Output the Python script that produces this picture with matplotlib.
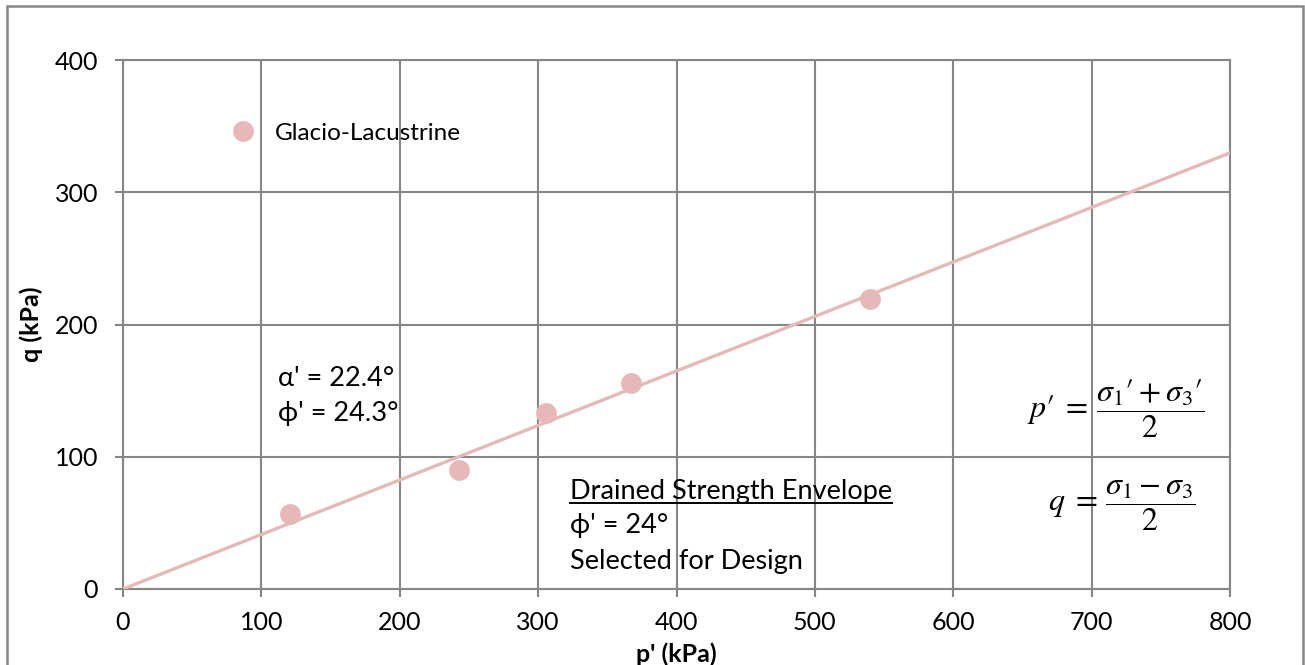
import numpy as np
import matplotlib
matplotlib.use("Agg")
import matplotlib.pyplot as plt
from matplotlib.lines import Line2D
from matplotlib.patches import Rectangle
from matplotlib.transforms import IdentityTransform

# test data (p', q) in kPa
p_test = [121, 243, 306, 367, 540]
q_test = [57, 90, 133, 156, 219]
series_name = "Glacio-Lacustrine"

# envelope through origin, alpha' = 22.4 deg
alpha_deg = 22.4
env_p = [0, 800]
env_q = [p * np.tan(np.radians(alpha_deg)) for p in env_p]

x_ticks = [0, 100, 200, 300, 400, 500, 600, 700, 800]
y_ticks = [0, 100, 200, 300, 400]

PINK = "#E6B9B8"
GRID = "#868686"

plt.rcParams["font.family"] = ["Lato", "DejaVu Sans"]
plt.rcParams["mathtext.fontset"] = "stix"

fig = plt.figure(figsize=(13.05, 6.65), dpi=100)
ax = fig.add_axes([123 / 1305, 1 - 589 / 665, 1107 / 1305, 529 / 665])

ax.plot(env_p, env_q, color=PINK, lw=2.4, zorder=3)
ax.plot(p_test, q_test, "o", color=PINK, ms=15, mec="none",
        label=series_name, zorder=4)

ax.set_xlim(0, 800)
ax.set_ylim(0, 400)
ax.set_xticks(x_ticks)
ax.set_yticks(y_ticks)
ax.grid(True, color=GRID, lw=1.5, zorder=0)
ax.set_axisbelow(True)
for s in ax.spines.values():
    s.set_color(GRID)
    s.set_linewidth(1.5)
ax.tick_params(axis="both", direction="out", length=6, width=1.5,
               color=GRID, labelsize=18, labelcolor="black")
ax.tick_params(axis="x", pad=10)
ax.tick_params(axis="y", pad=12)

ax.set_xlabel("p' (kPa)", fontsize=18, fontweight="bold", labelpad=6)
ax.set_ylabel("q (kPa)", fontsize=18, fontweight="bold", labelpad=8)

ax.legend(loc="center left", bbox_to_anchor=(0.097, 0.862), frameon=False,
          fontsize=17.5, handlelength=1.0, handletextpad=0.85,
          borderpad=0, borderaxespad=0, numpoints=1)

# annotations
ann = 19.5
ax.text(112, 159, "α' = 22.4°", fontsize=ann, va="center", ha="left")
ax.text(112, 133, "ϕ' = 24.3°", fontsize=ann, va="center", ha="left")
title = ax.text(323, 74, "Drained Strength Envelope", fontsize=ann,
                va="center", ha="left")
ax.text(323, 48, "ϕ' = 24°", fontsize=ann, va="center", ha="left")
ax.text(323, 21, "Selected for Design", fontsize=ann, va="center", ha="left")

ax.text(782, 136, "$p\u2032\\;=\\,\\dfrac{\\sigma_1\u2032 + \\sigma_3\u2032}{2}$",
        fontsize=23, va="center", ha="right")
ax.text(775, 63, r"$q\;=\,\dfrac{\sigma_1 - \sigma_3}{2}$",
        fontsize=23, va="center", ha="right")

# outer chart border
fig.add_artist(Rectangle((7 / 1305, -0.1), 1296 / 1305, 1.1 - 6 / 665,
                         transform=fig.transFigure, fill=False,
                         edgecolor=GRID, lw=1.8))

# underline the envelope heading
fig.canvas.draw()
bb = title.get_window_extent()
y_ul = bb.y0 + 1
fig.add_artist(Line2D([bb.x0, bb.x1], [y_ul, y_ul], color="black", lw=1.4,
                      transform=IdentityTransform()))

fig.savefig("out.png", dpi=100)
